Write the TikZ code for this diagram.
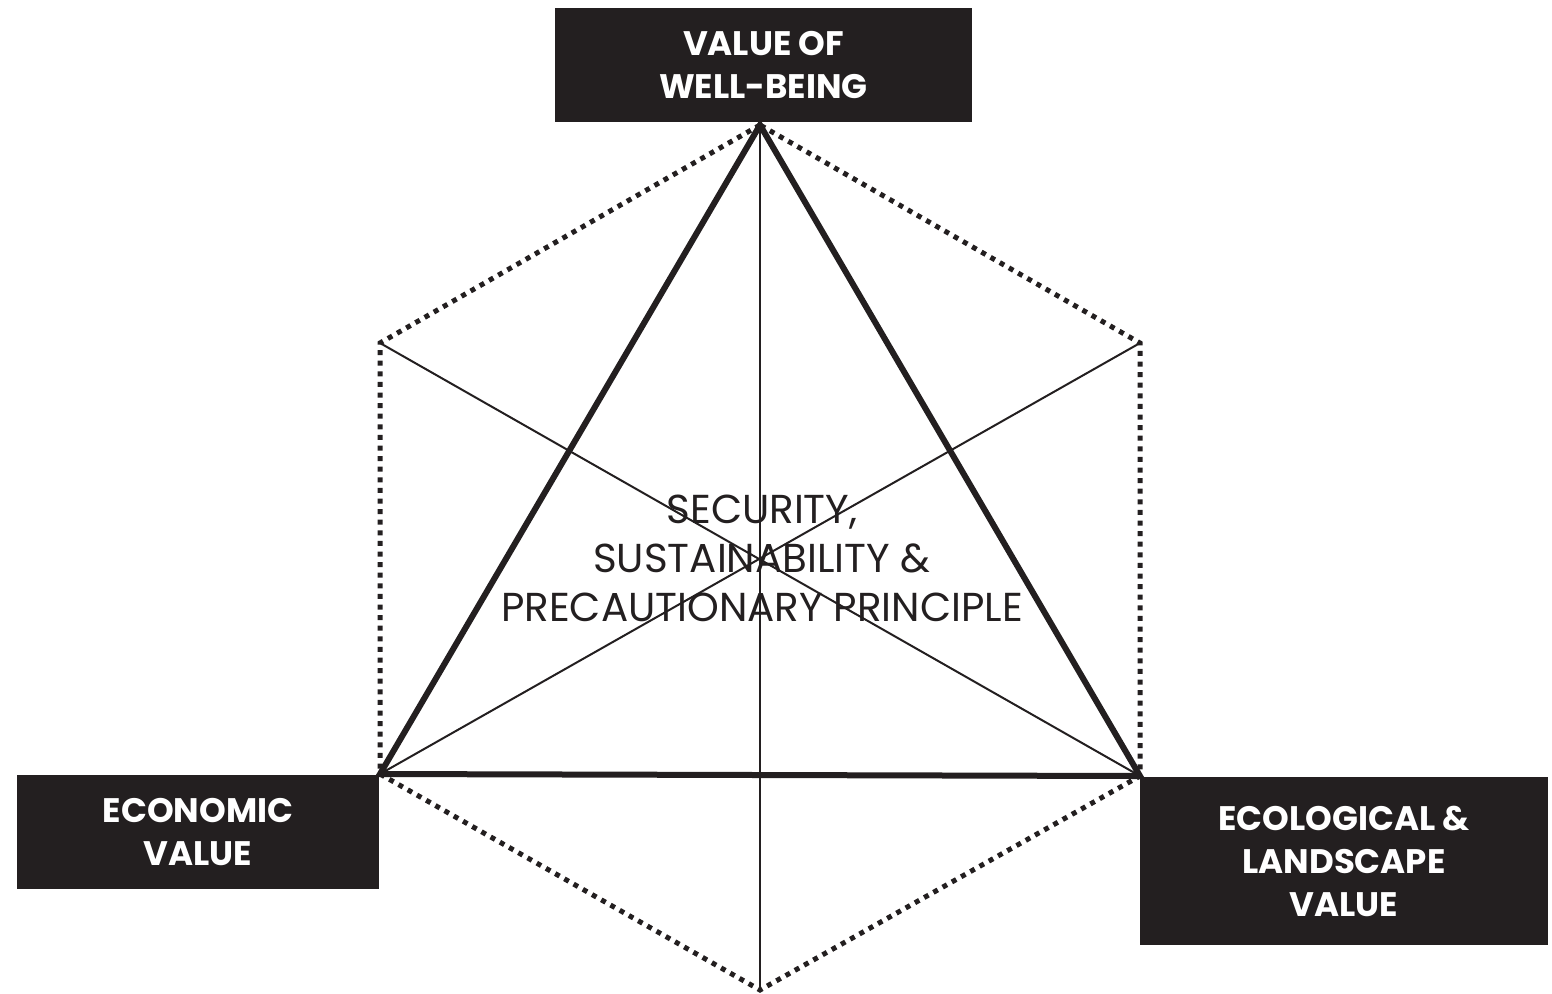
\documentclass[tikz,border=0pt]{standalone}
\usepackage{fontspec}
\setmainfont{Poppins}
\definecolor{ink}{HTML}{231F20}
\begin{document}
\begin{tikzpicture}[
  x=0.5pt, y=-0.5pt,
  valbox/.style={rectangle, fill=ink, draw=none, text=white, align=center, inner sep=0pt,
    font={\fontsize{17}{21.5}\selectfont\bfseries}},
  ctrlbl/.style={align=center, text=ink, inner sep=0pt, font={\fontsize{20.2}{24.5}\selectfont}},
  thickedge/.style={draw=ink, line width=3pt, line join=miter},
  thinedge/.style={draw=ink, line width=1pt},
  dotedge/.style={draw=ink, line width=2.5pt, dash pattern=on 2.5pt off 2.8pt}
]
\useasboundingbox (0,0) rectangle (1552,993);
% hexagon corners
\coordinate (top) at (760,125);
\coordinate (ul) at (380,343);
\coordinate (ur) at (1140,343);
\coordinate (ll) at (380,774);
\coordinate (lr) at (1140,776);
\coordinate (bot) at (760,990);
% dotted outline
\draw[dotedge] (top) -- (ul) -- (ll) -- (bot) -- (lr) -- (ur) -- cycle;
% thin spokes
\draw[thinedge] (top) -- (bot);
\draw[thinedge] (ul) -- (lr);
\draw[thinedge] (ur) -- (ll);
% main triangle
\draw[thickedge] (top) -- (ll) -- (lr) -- cycle;
% value boxes
\node[valbox, minimum width=208.5pt, minimum height=57pt] (wellbeing) at (763.5,65) {VALUE OF\\WELL-BEING};
\node[valbox, minimum width=181pt, minimum height=57pt] (economic) at (198,832) {ECONOMIC\\VALUE};
\node[valbox, minimum width=204pt, minimum height=84pt] (ecological) at (1344,861) {ECOLOGICAL \&\\LANDSCAPE\\VALUE};
% centre text
\node[ctrlbl] (principle) at (762,558) {SECURITY,\\SUSTAINABILITY \&\\PRECAUTIONARY PRINCIPLE};
\end{tikzpicture}
\end{document}
